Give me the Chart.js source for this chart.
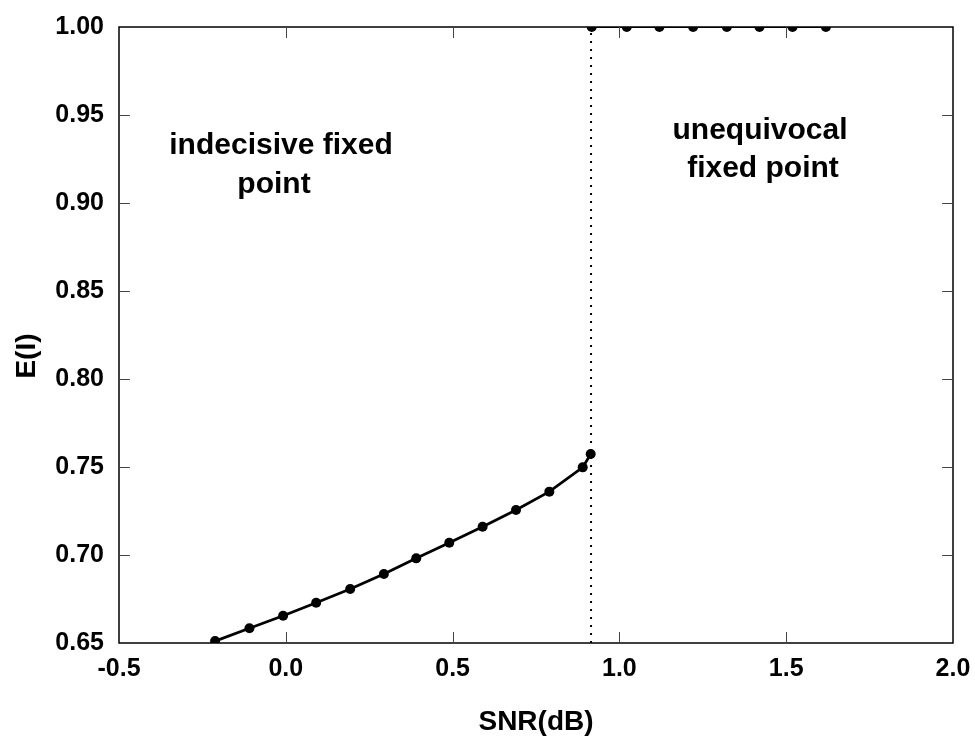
<!DOCTYPE html>
<html>
<head>
<meta charset="utf-8">
<script src="https://cdn.jsdelivr.net/npm/chart.js@4.4.1/dist/chart.umd.min.js"></script>
<style>
  html,body{margin:0;padding:0;background:#fff;}
  #wrap{width:975px;height:743px;position:relative;}
</style>
</head>
<body>
<div id="wrap"><canvas id="c"></canvas></div>
<script>
// courbe du point fixe indécis (SNR en dB, E(I))
const snrBas = [-0.212, -0.109, -0.008, 0.091, 0.193, 0.294, 0.391, 0.490, 0.590, 0.690, 0.790, 0.890, 0.914];
const eBas   = [0.6511, 0.6584, 0.6655, 0.6729, 0.6807, 0.6892, 0.6981, 0.7070, 0.7161, 0.7256, 0.7360, 0.7498, 0.7574];
// point fixe univoque : E(I)=1
const snrHaut = [0.917, 1.022, 1.120, 1.221, 1.322, 1.420, 1.519, 1.619];
const eHaut   = [1.0, 1.0, 1.0, 1.0, 1.0, 1.0, 1.0, 1.0];
// seuil (ligne pointillée)
const seuilSnr = 0.915;
const seuilE = [0.65, 1.0];

const xTicks = [-0.5, 0.0, 0.5, 1.0, 1.5, 2.0];
const yTicks = [0.65, 0.70, 0.75, 0.80, 0.85, 0.90, 0.95, 1.00];

const FONT = "'Liberation Sans', Arial, sans-serif";

const cadre = {
  id:"cadre",
  afterDatasetsDraw(chart){
    const {ctx, chartArea:a, scales:{x, y}} = chart;
    ctx.save();
    ctx.strokeStyle = "#000"; ctx.lineWidth = 1.5;
    ctx.strokeRect(a.left, a.top, a.right - a.left, a.bottom - a.top);
    // petites graduations vers l'intérieur
    ctx.lineWidth = 1; ctx.strokeStyle = "#444";
    const L = 11;
    ctx.beginPath();
    xTicks.slice(1, -1).forEach(v => {
      const px = Math.round(x.getPixelForValue(v)) + .5;
      ctx.moveTo(px, a.bottom); ctx.lineTo(px, a.bottom - L);
      ctx.moveTo(px, a.top); ctx.lineTo(px, a.top + L);
    });
    yTicks.slice(1, -1).forEach(v => {
      const py = Math.round(y.getPixelForValue(v)) + .5;
      ctx.moveTo(a.left, py); ctx.lineTo(a.left + L, py);
      ctx.moveTo(a.right, py); ctx.lineTo(a.right - L, py);
    });
    ctx.stroke();
    ctx.restore();
  },
  afterDraw(chart){
    const {ctx} = chart;
    ctx.save();
    ctx.fillStyle = "#000";
    ctx.textAlign = "center"; ctx.textBaseline = "middle";
    ctx.font = `bold 30px ${FONT}`;
    ctx.fillText("indecisive fixed", 281, 146);
    ctx.fillText("point", 274, 185);
    ctx.fillText("unequivocal", 760, 131);
    ctx.fillText("fixed point", 763, 169);
    // titre axe Y
    ctx.translate(27, 356);
    ctx.rotate(-Math.PI/2);
    ctx.font = `bold 28px ${FONT}`;
    ctx.fillText("E(I)", 0, 0);
    ctx.restore();
  }
};

new Chart(document.getElementById("c"), {
  type:"line",
  data:{
    datasets:[
      {
        data: snrBas.map((v,i)=>({x:v, y:eBas[i]})),
        borderColor:"#000", backgroundColor:"#000", borderWidth:2.8,
        pointRadius:5, pointBorderWidth:0, pointBackgroundColor:"#000", tension:0,
      },
      {
        data: snrHaut.map((v,i)=>({x:v, y:eHaut[i]})),
        borderColor:"#000", backgroundColor:"#000", borderWidth:2,
        pointRadius:5, pointBorderWidth:0, pointBackgroundColor:"#000", tension:0,
      },
      {
        data: seuilE.map(v=>({x:seuilSnr, y:v})),
        borderColor:"#000", borderWidth:2, borderDash:[2,6], pointRadius:0,
      },
    ],
  },
  options:{
    responsive:true, maintainAspectRatio:false, animation:false,
    layout:{padding:{left:0, right:22, top:27, bottom:0}},
    plugins:{legend:{display:false}, tooltip:{enabled:false}},
    scales:{
      x:{
        type:"linear", min:-0.5, max:2.0,
        afterBuildTicks:s=>{ s.ticks = xTicks.map(v=>({value:v})); },
        afterFit:s=>{ s.height = 100; s.paddingLeft = 0; s.paddingRight = 0; },
        grid:{display:false}, border:{display:false},
        ticks:{padding:3, color:"#000", font:{family:FONT, size:25, weight:"bold"},
               maxRotation:0, autoSkip:false, callback:v=>v.toFixed(1)},
        title:{display:true, text:"SNR(dB)", color:"#000",
               font:{family:FONT, size:28, weight:"bold"}, padding:{top:0, bottom:4}},
      },
      y:{
        type:"linear", min:0.65, max:1.0,
        afterBuildTicks:s=>{ s.ticks = yTicks.map(v=>({value:v})); },
        afterFit:s=>{ s.width = 119; s.paddingTop = 0; s.paddingBottom = 0; },
        grid:{display:false}, border:{display:false},
        ticks:{padding:7, color:"#000", font:{family:FONT, size:25, weight:"bold"},
               autoSkip:false, callback:v=>v.toFixed(2)},
      },
    },
  },
  plugins:[cadre],
});
</script>
</body>
</html>
